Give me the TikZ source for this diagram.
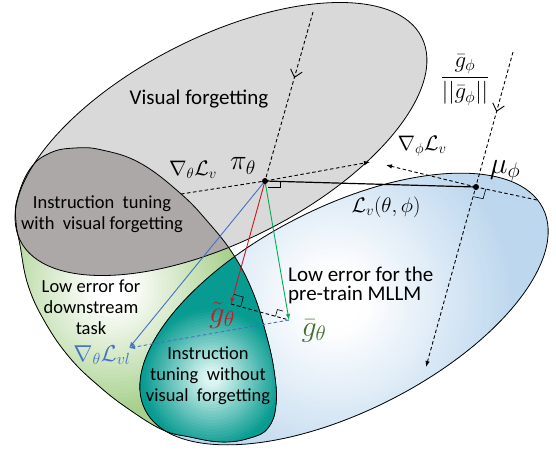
\RequirePackage{fix-cm}
\documentclass[tikz,border=0pt]{standalone}
\usepackage{amsmath}
\usepackage{fontspec}
\setmainfont{Carlito}
\usepackage{xcolor}
\definecolor{fvgray}{RGB}{217,217,217}
\definecolor{fvdark}{RGB}{172,168,168}
\definecolor{ptblue}{RGB}{189,215,238}
\definecolor{dsgreen}{RGB}{169,209,142}
\definecolor{ttdark}{RGB}{8,155,145}
\definecolor{ttlight}{RGB}{220,246,242}
\definecolor{arblue}{RGB}{68,114,196}
\definecolor{arred}{RGB}{204,24,36}
\definecolor{argreen}{RGB}{0,176,80}
\definecolor{lbgreen}{RGB}{70,110,45}
\usepackage{tikz}
\usetikzlibrary{arrows.meta, calc, decorations.markings}

% region of low error for the downstream task
\newcommand{\downpath}{plot[smooth cycle, tension=0.7] coordinates {(30,169) (50,153) (75,148) (102,150) (140,163) (180,193) (208,222) (233,254) (252,290) (265,330) (274,370) (276,405) (268,428) (250,438) (222,442) (190,437) (163,430) (130,410) (100,387) (70,358) (45,322) (28,285) (20,245) (16,222) (17,200)}}

\tikzset{
  forget/.style={rotate around={26.9:(221,139)}},
  pretrain/.style={rotate around={26.9:(344,309)}},
  outline/.style={draw=black, line width=0.8pt},
  dsh/.style={dash pattern=on 3.5pt off 2.5pt, line width=0.9pt},
  tip/.style={-{Latex[length=6pt,width=4.5pt]}},
  midbarb/.style={postaction={decorate, decoration={markings, mark=at position #1 with {\arrow{Straight Barb[length=7pt,width=12pt,line width=0.9pt]}}}}},
  rmark/.style={line width=0.6pt},
  lbl/.style={font=\fontsize{18.5}{21}\selectfont, align=center, inner sep=0pt},
  mlbl/.style={inner sep=0pt}
}

\begin{document}
\begin{tikzpicture}[x=1pt, y=-1pt]
  \useasboundingbox (0,0) rectangle (556,453);

  % --- Regions ---
  % downstream task
  \begin{scope}
    \clip \downpath;
    \fill[dsgreen] (0,140) rectangle (290,453);
    \foreach \r in {150,146,...,2} {
      \pgfmathtruncatemacro{\pct}{max(0,min(100,(\r-18)/105*100))}
      \fill[dsgreen!\pct!white] (112,288) circle (\r);
    }
  \end{scope}
  % visual forgetting
  \fill[fvgray, forget] (221,139) ellipse [x radius=225, y radius=102];
  % pre-train MLLM
  \begin{scope}
    \clip[pretrain] (344,309) ellipse [x radius=223, y radius=102];
    \fill[ptblue] (100,160) rectangle (556,453);
    \foreach \r in {200,196,...,2} {
      \pgfmathtruncatemacro{\pct}{max(0,min(100,(\r-30)/150*100))}
      \fill[ptblue!\pct!white] (335,300) circle (\r);
    }
  \end{scope}
  % with visual forgetting
  \begin{scope}
    \clip \downpath;
    \fill[fvdark, forget] (221,139) ellipse [x radius=225, y radius=102];
  \end{scope}
  % without visual forgetting
  \begin{scope}
    \clip \downpath;
    \clip[pretrain] (344,309) ellipse [x radius=223, y radius=102];
    \fill[ttdark] (100,240) rectangle (290,453);
    \foreach \r in {90,87,...,2} {
      \pgfmathtruncatemacro{\pct}{max(0,min(100,(\r-8)/62*100))}
      \fill[ttdark!\pct!ttlight] (212,378) circle (\r);
    }
  \end{scope}
  % Outlines
  \draw[outline] \downpath;
  \draw[outline, forget] (221,139) ellipse [x radius=225, y radius=102];
  \draw[outline, pretrain] (344,309) ellipse [x radius=223, y radius=102];

  % --- Points ---
  \coordinate (pi) at (265,181);
  \coordinate (mu) at (476,187);
  \coordinate (gt) at (231,304);
  \coordinate (gb) at (289,320);
  \coordinate (gvl) at (129,348);
  \coordinate (ntA) at (181,194);
  \coordinate (ntB) at (370,162);
  \coordinate (npA) at (537,200);
  \coordinate (npB) at (386,165);
  \coordinate (piTop) at (313,12);
  \coordinate (muTop) at (513,52);
  \coordinate (muEnd) at (426,367);

  % --- Gradient lines ---
  \draw[dsh] (ntA) -- (pi);
  \draw[dsh, tip] (pi) -- (ntB);
  \draw[dsh] (npA) -- (mu);
  \draw[dsh, tip] (mu) -- (npB);
  \draw[dsh, midbarb=0.39] (piTop) -- (pi);
  \draw[dsh, tip, midbarb=0.19] (muTop) -- (muEnd);
  \draw[line width=1.2pt] (pi) -- (mu);
  \draw[arblue, line width=0.9pt, tip] (pi) -- (gvl);
  \draw[arred, line width=0.9pt, tip] (pi) -- (gt);
  \draw[argreen, line width=0.9pt, tip] (pi) -- (gb);
  \draw[dsh] (gt) -- (gb);
  \draw[dsh, arblue, tip] (gb) -- (gvl);
  \fill (pi) circle (3);
  \fill (mu) circle (3);

  % Right angles
  \draw[rmark] (268,187) -- (280,187) -- (280,181);
  \coordinate (muD) at ($(mu)!10pt!(muEnd)$);
  \coordinate (muR) at ($(mu)!10pt!(npA)$);
  \draw[rmark] (muD) -- ($(muD)+(muR)-(mu)$) -- (muR);
  \coordinate (gtU) at ($(gt)!10pt!(pi)$);
  \coordinate (gtR) at ($(gt)!10pt!(gb)$);
  \draw[rmark] (gtU) -- ($(gtU)+(gtR)-(gt)$) -- (gtR);
  \coordinate (gbL) at ($(gb)!14pt!(gt)$);
  \coordinate (gbU) at ($(gbL)!7pt!90:(gb)$);
  \draw[rmark] (gbL) -- (gbU) -- ($(gbU)!6pt!90:(gbL)$);

  % --- Labels ---
  \node[lbl, font=\fontsize{21}{24}\selectfont] (vf) at (199,99) {Visual forgetting};
  \node[lbl] (itw) at (102,214) {Instruction~~tuning\\with~~visual forgetting};
  \node[lbl] (ds) at (91,307) {Low error for\\downstream\\task};
  \node[anchor=north west, inner sep=0pt, align=left, font=\fontsize{21}{19}\selectfont] (pt) at (288,267) {Low error for the\\pre-train MLLM};
  \node[lbl] (itwo) at (208,376) {Instruction\\tuning~~without\\visual~~forgetting};

  \node[mlbl, font=\fontsize{21}{24}\selectfont] (lnt) at (193,170) {$\nabla_{\theta}\mathcal{L}_{v}$};
  \node[mlbl, font=\fontsize{28}{32}\selectfont] (lpi) at (243,166) {$\pi_{\theta}$};
  \node[mlbl, font=\fontsize{21}{24}\selectfont] (lnp) at (422,146) {$\nabla_{\phi}\mathcal{L}_{v}$};
  \node[mlbl, font=\fontsize{30}{34}\selectfont] (lmu) at (505,171) {$\mu_{\phi}$};
  \node[mlbl, font=\fontsize{23}{28}\selectfont] (lfrac) at (465,80) {$\dfrac{\bar{g}_{\phi}}{||\bar{g}_{\phi}||}$};
  \node[mlbl, font=\fontsize{21}{24}\selectfont] (lloss) at (386,207) {$\mathcal{L}_{v}(\theta,\phi)$};
  \node[mlbl, font=\fontsize{31}{34}\selectfont, text=arred] (lgt) at (222,315) {$\tilde{g}_{\theta}$};
  \node[mlbl, font=\fontsize{30}{34}\selectfont, text=lbgreen] (lgb) at (314,331) {$\bar{g}_{\theta}$};
  \node[mlbl, font=\fontsize{23}{26}\selectfont, text=arblue] (lvl) at (102,355) {$\nabla_{\theta}\mathcal{L}_{vl}$};
\end{tikzpicture}
\end{document}
